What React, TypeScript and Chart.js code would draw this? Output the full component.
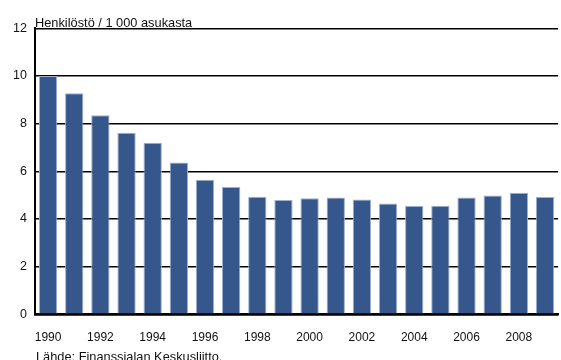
import React, { useEffect, useRef } from "react";
import { Chart, registerables } from "chart.js";

Chart.register(...registerables);

const years: string[] = [
  "1990", "1991", "1992", "1993", "1994", "1995", "1996", "1997", "1998", "1999",
  "2000", "2001", "2002", "2003", "2004", "2005", "2006", "2007", "2008", "2009",
];
const staffPer1000: number[] = [
  10.0, 9.27, 8.35, 7.62, 7.2, 6.37, 5.65, 5.34, 4.93, 4.8,
  4.87, 4.9, 4.82, 4.65, 4.54, 4.55, 4.9, 4.98, 5.1, 4.92,
];
const yTicks: number[] = [0, 2, 4, 6, 8, 10, 12];
const titleText = "Henkilöstö / 1 000 asukasta";
const sourceText = "Lähde: Finanssialan Keskusliitto.";

const FONT = "'Liberation Sans', Arial, sans-serif";

const textPlugin = {
  id: "textPlugin",
  afterDraw(chart: any) {
    const ctx = chart.ctx;
    const area = chart.chartArea;
    ctx.save();
    ctx.fillStyle = "#111";
    ctx.font = `12.8px ${FONT}`;
    ctx.textAlign = "left";
    ctx.textBaseline = "alphabetic";
    ctx.fillText(titleText, area.left, area.top - 1.3);
    ctx.fillText(sourceText, area.left + 1, chart.height + 1);
    ctx.restore();
  },
};

export default function App() {
  const ref = useRef<HTMLCanvasElement | null>(null);
  useEffect(() => {
    if (!ref.current) return;
    const chart = new Chart(ref.current, {
      type: "bar",
      data: {
        labels: years,
        datasets: [
          {
            data: staffPer1000,
            backgroundColor: "#36578c",
            borderColor: "#9fb0cc",
            borderWidth: { left: 1, right: 1, top: 1, bottom: 0 },
            categoryPercentage: 1,
            barPercentage: 0.7,
          },
        ],
      },
      options: {
        animation: false,
        responsive: false,
        layout: { padding: { top: 28.3, right: 0, left: 0, bottom: 0 } },
        plugins: {
          legend: { display: false },
          tooltip: { enabled: false },
          title: { display: false },
        },
        scales: {
          x: {
            grid: { display: false, drawTicks: false },
            border: { display: true, color: "#000", width: 2.5 },
            ticks: {
              autoSkip: false,
              maxRotation: 0,
              minRotation: 0,
              padding: 16,
              color: "#111",
              font: { family: FONT, size: 12 },
              callback: (_v: any, i: number) => (i % 2 === 0 ? years[i] : ""),
            },
            afterFit: (scale: any) => {
              scale.height = 45.7;
            },
          },
          y: {
            min: 0,
            max: 12,
            afterBuildTicks: (scale: any) => {
              scale.ticks = yTicks.map((v) => ({ value: v }));
            },
            grid: { color: "#000", lineWidth: 1.5, drawTicks: false },
            border: { display: true, color: "#000", width: 2 },
            ticks: {
              padding: 8,
              color: "#111",
              font: { family: FONT, size: 12.5 },
            },
            afterFit: (scale: any) => {
              scale.width = 35;
            },
          },
        },
      },
      plugins: [textPlugin],
    });
    return () => chart.destroy();
  }, []);
  return (
    <div style={{ position: "absolute", left: 0, top: 0, width: 561, height: 360, background: "#fff" }}>
      <canvas ref={ref} width={561} height={360} style={{ display: "block" }} />
    </div>
  );
}
